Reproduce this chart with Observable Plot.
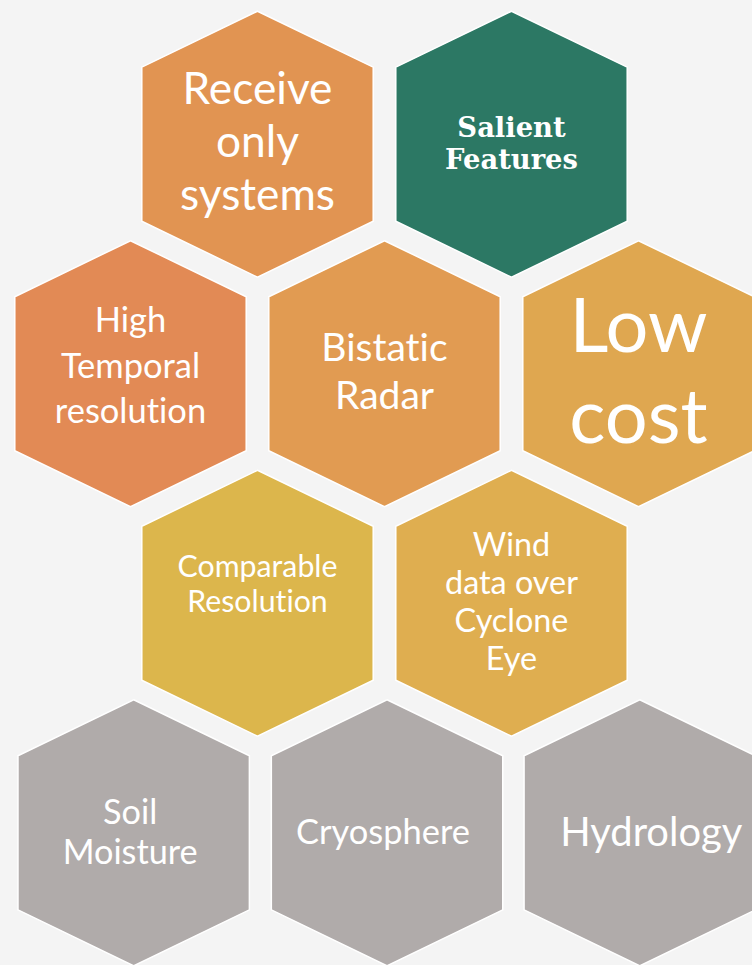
<!DOCTYPE html>
<html><head><meta charset="utf-8">
<script src="https://cdn.jsdelivr.net/npm/d3@7"></script>
<script src="https://cdn.jsdelivr.net/npm/@observablehq/plot@0.6"></script>
<style>
html,body{margin:0;padding:0;background:#f4f4f4;}
#chart svg{display:block;}
#chart svg text{font-variant-ligatures:none;font-feature-settings:"liga" 0,"clig" 0;}
</style>
</head><body><div id="chart"></div>
<script>
// ---- data ----
const labels = [
  "Receive\nonly\nsystems",
  "Salient\nFeatures",
  "High\nTemporal\nresolution",
  "Bistatic\nRadar",
  "Low\ncost",
  "Comparable\nResolution",
  "Wind\ndata over\nCyclone\nEye",
  "Soil\nMoisture",
  "Cryosphere",
  "Hydrology"
];
const cols = [1, 3, 0, 2, 4, 1, 3, 0.025, 2.02, 4.01];   // honeycomb column (half-steps)
const rows = [0, 0, 1, 1, 1, 2, 2, 3, 3, 3];              // honeycomb row

// ---- styles ----
const hexColors = ["#E19452", "#2C7864", "#E28A55", "#E19B52", "#DFA750",
                   "#DCB64C", "#DFAE50", "#B0ABAA", "#B0ABAA", "#B0ABAA"];
const SANS = "Lato, 'Open Sans', sans-serif";
const SERIF = "'DejaVu Serif', 'Liberation Serif', serif";
// fitLine: line whose width is matched to fitWidth; gap: baseline spacing; last: last baseline offset from centre
const textStyle = [
  {fitLine: 0, fitWidth: 150, gap: 53,   last: 66,  dx: 0},
  {fitLine: 1, fitWidth: 133, family: SERIF, weight: "bold", gap: 31.6, last: 24.6, dx: 0},
  {fitLine: 2, fitWidth: 152, gap: 45.5, last: 49.3, dx: 0},
  {fitLine: 0, fitWidth: 127, gap: 48,   last: 35.6, dx: 0},
  {fitLine: 0, fitWidth: 138, gap: 90.6, last: 69,   dx: 0},
  {fitLine: 0, fitWidth: 160, gap: 35,   last: 8.7,  dx: 0},
  {fitLine: 1, fitWidth: 133, gap: 38,   last: 66.3, dx: 0},
  {fitLine: 1, fitWidth: 135, gap: 40,   last: 31,   dx: -3.5},
  {fitLine: 0, fitWidth: 174, gap: 0,    last: 11,   dx: -4},
  {fitLine: 0, fitWidth: 182, gap: 0,    last: 12.7, dx: 11.5}
];

const data = labels.map((label, i) => ({label, col: cols[i], row: rows[i]}));

// stretched pointy-top hexagon symbol
const hexagon = {
  draw(context, size) {
    const R = Math.sqrt(size / Math.PI);
    const hw = R * 0.87, s = R * 0.579;
    context.moveTo(0, -R);
    context.lineTo(hw, -s);
    context.lineTo(hw, s);
    context.lineTo(0, R);
    context.lineTo(-hw, s);
    context.lineTo(-hw, -s);
    context.closePath();
  }
};

const ctx = document.createElement("canvas").getContext("2d");
function fitSize(line, family, weight, target) {
  ctx.font = `${weight} 100px ${family}`;
  return 100 * target / ctx.measureText(line).width;
}

const textMarks = data.map((d, i) => {
  const st = textStyle[i];
  const family = st.family || SANS;
  const weight = st.weight || "normal";
  const size = fitSize(d.label.split("\n")[st.fitLine], family, weight, st.fitWidth);
  return Plot.text([d], {
    x: "col", y: "row", text: "label",
    fill: "white",
    fontFamily: family,
    fontWeight: weight,
    fontSize: size,
    lineHeight: st.gap ? st.gap / size : 1,
    lineAnchor: "bottom",
    textAnchor: "middle",
    dy: st.last,
    dx: st.dx
  });
});

const chart = Plot.plot({
  width: 752,
  height: 965,
  margin: 0,
  style: {background: "#f4f4f4", overflow: "visible"},
  x: {domain: [0, 4], range: [130, 638], axis: null},
  y: {domain: [0, 3], range: [143.7, 832.3], axis: null},
  color: {domain: labels, range: hexColors},
  marks: [
    Plot.dot(data, {
      x: "col", y: "row", r: 133, symbol: hexagon,
      fill: "label", stroke: "white", strokeWidth: 1.5
    }),
    ...textMarks
  ]
});
document.getElementById("chart").append(chart);
</script>
</body></html>
